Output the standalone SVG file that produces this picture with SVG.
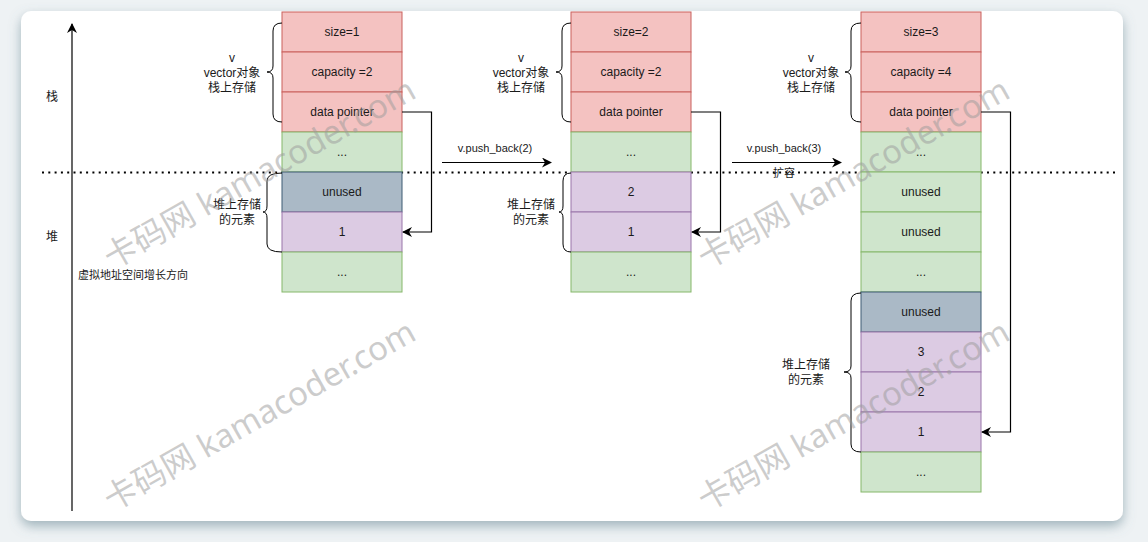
<svg xmlns="http://www.w3.org/2000/svg" width="1148" height="542" viewBox="0 0 1148 542">
<defs>
<filter id="shadow" x="-5%" y="-5%" width="110%" height="115%">
<feDropShadow dx="0" dy="5" stdDeviation="6" flood-color="#5f808c" flood-opacity="0.55"/>
</filter>
<marker id="arr" viewBox="0 0 10 10" refX="9" refY="5" markerWidth="10" markerHeight="10" markerUnits="userSpaceOnUse" orient="auto">
<path d="M0,0 L10,5 L0,10 L3,5 z" fill="#000"/>
</marker>
<style>
.red{fill:#f4c2c1;stroke:#c9605c;stroke-width:1}
.green{fill:#cfe5cc;stroke:#86b86a;stroke-width:1}
.purple{fill:#dccbe3;stroke:#9a76aa;stroke-width:1}
.gray{fill:#aab9c6;stroke:#3f5d74;stroke-width:1}
text{font-family:"Liberation Sans","Noto Sans CJK SC",Arial,sans-serif;font-size:12px;fill:#1a1a1a}
.c{text-anchor:middle}
.wm{font-family:"Noto Sans","Noto Sans CJK SC",sans-serif;font-size:33px;fill:#9a9a9a;fill-opacity:0.5}
.line{fill:none;stroke:#000;stroke-width:1.2}
.brace{fill:none;stroke:#000;stroke-width:1}
</style>
</defs>
<rect x="0" y="0" width="1148" height="542" fill="#eef2f4"/>
<rect x="21" y="11" width="1102" height="510" rx="10" ry="10" fill="#fff" filter="url(#shadow)"/>

<g id="axis">
<line x1="72" y1="511" x2="72" y2="24" class="line" marker-end="url(#arr)"/>
<text x="52" y="101" class="c">栈</text>
<text x="52" y="241" class="c">堆</text>
<text x="78" y="279" style="font-size:11px">虚拟地址空间增长方向</text>
</g>

<g id="divider">
<line x1="42" y1="172.5" x2="1116" y2="172.5" stroke="#000" stroke-width="2" stroke-dasharray="2 4.3"/>
</g>

<!-- Column 1 -->
<g id="col1">
<rect x="282" y="12" width="120" height="40" class="red"/><text x="342" y="36" class="c">size=1</text>
<rect x="282" y="52" width="120" height="40" class="red"/><text x="342" y="76" class="c">capacity =2</text>
<rect x="282" y="92" width="120" height="40" class="red"/><text x="342" y="116" class="c">data pointer</text>
<rect x="282" y="132" width="120" height="40" class="green"/><text x="342" y="156" class="c">...</text>
<rect x="282" y="172" width="120" height="40" class="gray"/><text x="342" y="196" class="c">unused</text>
<rect x="282" y="212" width="120" height="40" class="purple"/><text x="342" y="236" class="c">1</text>
<rect x="282" y="252" width="120" height="40" class="green"/><text x="342" y="276" class="c">...</text>
</g>
<g id="col1-stack-label">
<path class="brace" d="M282,23 Q273,23 273,31 L273,66 Q273,72 267,72 Q273,72 273,78 L273,114 Q273,122 282,122"/>
<text x="232" y="62" class="c">v</text>
<text x="232" y="77" class="c">vector对象</text>
<text x="232" y="92" class="c">栈上存储</text>
</g>
<g id="col1-heap-label">
<path class="brace" d="M282,173 Q267,173 267,181 L267,206 Q267,212 263,212 Q267,212 267,218 L267,244 Q267,252 282,252"/>
<text x="237" y="209" class="c">堆上存储</text>
<text x="237" y="224" class="c">的元素</text>
</g>

<!-- Column 2 -->
<g id="col2">
<rect x="571" y="12" width="120" height="40" class="red"/><text x="631" y="36" class="c">size=2</text>
<rect x="571" y="52" width="120" height="40" class="red"/><text x="631" y="76" class="c">capacity =2</text>
<rect x="571" y="92" width="120" height="40" class="red"/><text x="631" y="116" class="c">data pointer</text>
<rect x="571" y="132" width="120" height="40" class="green"/><text x="631" y="156" class="c">...</text>
<rect x="571" y="172" width="120" height="40" class="purple"/><text x="631" y="196" class="c">2</text>
<rect x="571" y="212" width="120" height="40" class="purple"/><text x="631" y="236" class="c">1</text>
<rect x="571" y="252" width="120" height="40" class="green"/><text x="631" y="276" class="c">...</text>
</g>
<g id="col2-stack-label">
<path class="brace" d="M571,23 Q562,23 562,31 L562,66 Q562,72 556,72 Q562,72 562,78 L562,114 Q562,122 571,122"/>
<text x="521" y="62" class="c">v</text>
<text x="521" y="77" class="c">vector对象</text>
<text x="521" y="92" class="c">栈上存储</text>
</g>
<g id="col2-heap-label">
<path class="brace" d="M571,173 Q563,173 563,181 L563,206 Q563,212 559,212 Q563,212 563,218 L563,244 Q563,252 571,252"/>
<text x="531" y="209" class="c">堆上存储</text>
<text x="531" y="224" class="c">的元素</text>
</g>

<!-- Column 3 -->
<g id="col3">
<rect x="861" y="12" width="120" height="40" class="red"/><text x="921" y="36" class="c">size=3</text>
<rect x="861" y="52" width="120" height="40" class="red"/><text x="921" y="76" class="c">capacity =4</text>
<rect x="861" y="92" width="120" height="40" class="red"/><text x="921" y="116" class="c">data pointer</text>
<rect x="861" y="132" width="120" height="40" class="green"/><text x="921" y="156" class="c">...</text>
<rect x="861" y="172" width="120" height="40" class="green"/><text x="921" y="196" class="c">unused</text>
<rect x="861" y="212" width="120" height="40" class="green"/><text x="921" y="236" class="c">unused</text>
<rect x="861" y="252" width="120" height="40" class="green"/><text x="921" y="276" class="c">...</text>
<rect x="861" y="292" width="120" height="40" class="gray"/><text x="921" y="316" class="c">unused</text>
<rect x="861" y="332" width="120" height="40" class="purple"/><text x="921" y="356" class="c">3</text>
<rect x="861" y="372" width="120" height="40" class="purple"/><text x="921" y="396" class="c">2</text>
<rect x="861" y="412" width="120" height="40" class="purple"/><text x="921" y="436" class="c">1</text>
<rect x="861" y="452" width="120" height="40" class="green"/><text x="921" y="476" class="c">...</text>
</g>
<g id="col3-stack-label">
<path class="brace" d="M861,23 Q851,23 851,31 L851,66 Q851,72 845,72 Q851,72 851,78 L851,114 Q851,122 861,122"/>
<text x="811" y="62" class="c">v</text>
<text x="811" y="77" class="c">vector对象</text>
<text x="811" y="92" class="c">栈上存储</text>
</g>
<g id="col3-heap-label">
<path class="brace" d="M861,293 Q851,293 851,301 L851,366 Q851,372 844,372 Q851,372 851,378 L851,444 Q851,452 861,452"/>
<text x="806" y="369" class="c">堆上存储</text>
<text x="806" y="384" class="c">的元素</text>
</g>

<g id="connectors">
<polyline class="line" points="402,112 431.5,112 431.5,232 403,232" marker-end="url(#arr)"/>
<polyline class="line" points="691,112 720.5,112 720.5,232 692,232" marker-end="url(#arr)"/>
<polyline class="line" points="981,112 1010.5,112 1010.5,432 982,432" marker-end="url(#arr)"/>
<line class="line" x1="442" y1="162.5" x2="551" y2="162.5" marker-end="url(#arr)"/>
<text x="495" y="152" class="c" style="font-size:11px">v.push_back(2)</text>
<line class="line" x1="732" y1="162.5" x2="841" y2="162.5" marker-end="url(#arr)"/>
<text x="784" y="152" class="c" style="font-size:11px">v.push_back(3)</text>
<text x="784" y="177" class="c" style="font-size:11px">扩容</text>
</g>

<g id="watermarks">
<text class="wm" transform="translate(112,270) rotate(-29.5)">卡码网 kamacoder.com</text>
<text class="wm" transform="translate(112,512) rotate(-29.5)">卡码网 kamacoder.com</text>
<text class="wm" transform="translate(706,270) rotate(-29.5)">卡码网 kamacoder.com</text>
<text class="wm" transform="translate(706,512) rotate(-29.5)">卡码网 kamacoder.com</text>
</g>
</svg>
